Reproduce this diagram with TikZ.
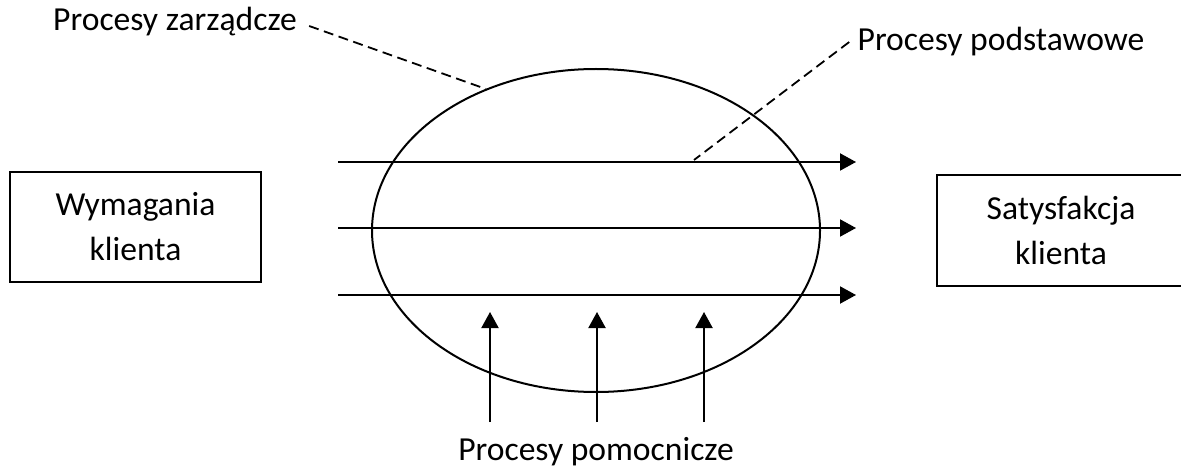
\documentclass[tikz,border=0pt]{standalone}
\usepackage{fontspec}
\setmainfont{Carlito}
\usetikzlibrary{shapes.geometric,arrows.meta}
\begin{document}
\begin{tikzpicture}[
    x=0.5pt, y=-0.5pt,
    box/.style={draw, line width=1pt, align=center, inner sep=0pt,
                font=\fontsize{16.8}{22.5}\selectfont},
    label/.style={inner sep=0pt, font=\fontsize{16.8}{20}\selectfont},
    flow/.style={-{Triangle[length=8pt, width=8.5pt]}, line width=1pt},
    lead/.style={dashed, dash pattern=on 5pt off 2.8pt, line width=0.9pt}
]
    \useasboundingbox (0,0) rectangle (1181,470);

    % Customer boxes on both sides
    \node[box, minimum width=125.5pt, minimum height=55pt] (req) at (135.5,227) {Wymagania\\klienta};
    \node[box, minimum width=124pt, minimum height=55.5pt] (sat) at (1061,230.5) {Satysfakcja\\klienta};

    % The process ellipse in the middle
    \node[draw, ellipse, line width=1pt, minimum width=224pt, minimum height=161.5pt, inner sep=0pt] (proc) at (596,230.5) {};

    % Main (horizontal) process flows
    \coordinate (f1s) at (338,162);
    \coordinate (f1e) at (856,162);
    \coordinate (f2s) at (338,228);
    \coordinate (f2e) at (856,228);
    \coordinate (f3s) at (338,295);
    \coordinate (f3e) at (856,295);
    \draw[flow] (f1s) -- (f1e);
    \draw[flow] (f2s) -- (f2e);
    \draw[flow] (f3s) -- (f3e);

    % Supporting (vertical) flows
    \coordinate (s1s) at (490,422);
    \coordinate (s1e) at (490,312);
    \coordinate (s2s) at (597,422);
    \coordinate (s2e) at (597,312);
    \coordinate (s3s) at (704,422);
    \coordinate (s3e) at (704,312);
    \draw[flow] (s1s) -- (s1e);
    \draw[flow] (s2s) -- (s2e);
    \draw[flow] (s3s) -- (s3e);

    % Labels with dashed leaders
    \node[label] (mgmt) at (175,22) {Procesy zarządcze};
    \node[label] (core) at (1001,42) {Procesy podstawowe};
    \node[label] (supp) at (596,452) {Procesy pomocnicze};

    \coordinate (mgmtEnd) at (486,89);
    \coordinate (coreEnd) at (694,160);
    \draw[lead] ([xshift=6pt,yshift=-2pt]mgmt.east) -- (mgmtEnd);
    \draw[lead] ([xshift=-4pt]core.west) -- (coreEnd);

\end{tikzpicture}
\end{document}
